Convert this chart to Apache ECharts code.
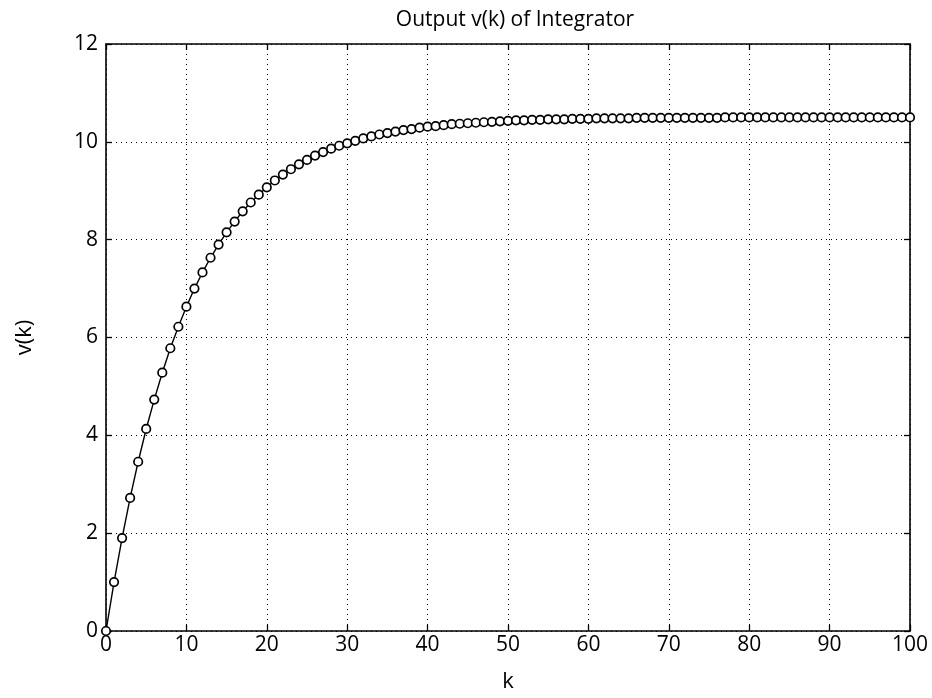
<!DOCTYPE html>
<html>
<head>
<meta charset="utf-8">
<script src="https://cdn.jsdelivr.net/npm/echarts@6/dist/echarts.min.js"></script>
<style>
  html, body { margin: 0; padding: 0; background: #fff; }
  #chart { width: 932px; height: 698px; }
</style>
</head>
<body>
<div id="chart"></div>
<script>
// k = 0..100
const kValues = [];
for (let i = 0; i <= 100; i++) kValues.push(i);

// v(k)
const vValues = [
  0.00, 1.00, 1.90, 2.72, 3.46, 4.13, 4.73, 5.28, 5.78, 6.22,
  6.63, 7.00, 7.33, 7.63, 7.90, 8.15, 8.37, 8.58, 8.76, 8.92,
  9.07, 9.21, 9.33, 9.44, 9.54, 9.63, 9.72, 9.79, 9.86, 9.92,
  9.97, 10.02, 10.07, 10.11, 10.15, 10.18, 10.21, 10.24, 10.26, 10.29,
  10.31, 10.32, 10.34, 10.36, 10.37, 10.38, 10.39, 10.40, 10.41, 10.42,
  10.43, 10.44, 10.44, 10.45, 10.45, 10.46, 10.46, 10.46, 10.47, 10.47,
  10.47, 10.48, 10.48, 10.48, 10.48, 10.48, 10.49, 10.49, 10.49, 10.49,
  10.49, 10.49, 10.49, 10.49, 10.49, 10.49, 10.49, 10.50, 10.50, 10.50,
  10.50, 10.50, 10.50, 10.50, 10.50, 10.50, 10.50, 10.50, 10.50, 10.50,
  10.50, 10.50, 10.50, 10.50, 10.50, 10.50, 10.50, 10.50, 10.50, 10.50,
  10.50
];

const titleText = "Output v(k) of Integrator";
const xName = "k";
const yName = "v(k)";

const FONT = "Open Sans";
const chart = echarts.init(document.getElementById("chart"));

const gridLine = { show: true, lineStyle: { color: "#000", width: 1, type: [1, 4] } };
const boxLine = { show: true, onZero: false, lineStyle: { color: "#000", width: 1.6 } };
const tickIn = { show: true, inside: true, length: 6, lineStyle: { color: "#000", width: 1.3 } };

chart.setOption({
  animation: false,
  backgroundColor: "#fff",
  title: {
    text: titleText,
    left: 510,
    top: 5,
    textAlign: "center",
    textStyle: { fontFamily: FONT, fontSize: 21, fontWeight: "normal", color: "#000" },
  },
  grid: { left: 106, top: 44, width: 804, height: 588, containLabel: false },
  xAxis: [
    {
      type: "value",
      min: 0,
      max: 100,
      interval: 10,
      position: "bottom",
      name: xName,
      nameLocation: "middle",
      nameGap: 40,
      nameTextStyle: { fontFamily: FONT, fontSize: 22, color: "#000" },
      axisLine: boxLine,
      axisTick: tickIn,
      axisLabel: { fontFamily: FONT, fontSize: 21, color: "#000", margin: 4 },
      splitLine: gridLine,
    },
    {
      type: "value",
      min: 0,
      max: 100,
      interval: 10,
      position: "top",
      axisLine: boxLine,
      axisTick: tickIn,
      axisLabel: { show: false },
      splitLine: { show: false },
    },
  ],
  yAxis: [
    {
      type: "value",
      min: 0,
      max: 12,
      interval: 2,
      position: "left",
      name: yName,
      nameLocation: "middle",
      nameGap: 70,
      nameRotate: 90,
      nameTextStyle: { fontFamily: FONT, fontSize: 22, color: "#000" },
      axisLine: boxLine,
      axisTick: tickIn,
      axisLabel: { fontFamily: FONT, fontSize: 21, color: "#000", margin: 8 },
      splitLine: gridLine,
    },
    {
      type: "value",
      min: 0,
      max: 12,
      interval: 2,
      position: "right",
      axisLine: boxLine,
      axisTick: tickIn,
      axisLabel: { show: false },
      splitLine: { show: false },
    },
  ],
  series: [
    {
      type: "line",
      xAxisIndex: 0,
      yAxisIndex: 0,
      data: kValues.map((k, i) => [k, vValues[i]]),
      clip: false,
      symbol: "circle",
      symbolSize: 8.5,
      showAllSymbol: true,
      itemStyle: { color: "#fff", borderColor: "#000", borderWidth: 1.7 },
      lineStyle: { color: "#000", width: 1.4 },
      z: 5,
    },
  ],
});
</script>
</body>
</html>
